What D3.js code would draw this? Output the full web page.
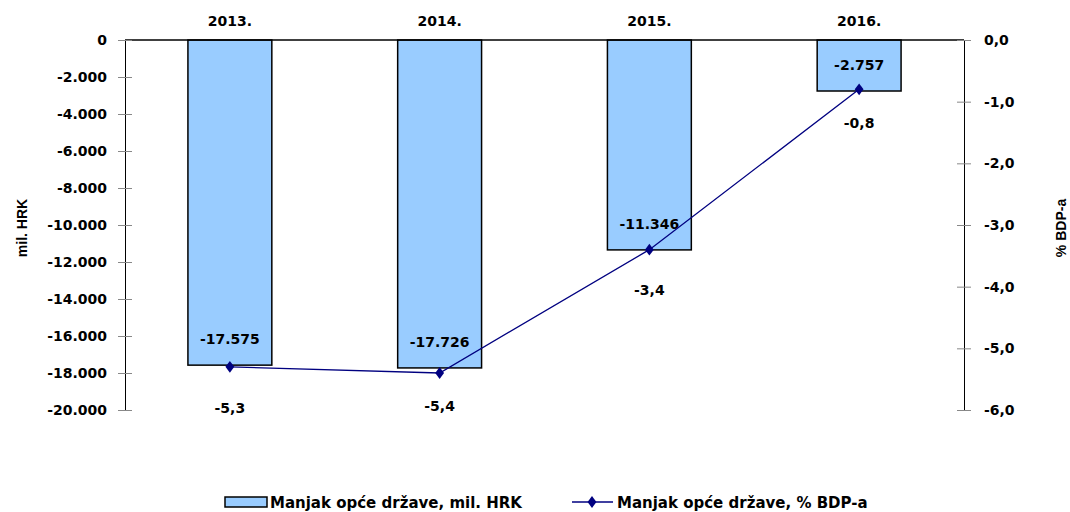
<!DOCTYPE html>
<html>
<head>
<meta charset="utf-8">
<script src="https://d3js.org/d3.v7.min.js"></script>
<style>
  body { margin: 0; background: #fff; }
  text { font-family: Verdana, "DejaVu Sans", sans-serif; font-weight: bold; fill: #000; }
</style>
</head>
<body>
<script>
// data
var years = ["2013.", "2014.", "2015.", "2016."];
var deficitHrk = [-17575, -17726, -11346, -2757];
var deficitGdp = [-5.3, -5.4, -3.4, -0.8];
var leftTicks = [0, -2000, -4000, -6000, -8000, -10000, -12000, -14000, -16000, -18000, -20000];
var rightTicks = [0, -1, -2, -3, -4, -5, -6];
var barLabels = ["-17.575", "-17.726", "-11.346", "-2.757"];
var lineLabels = ["-5,3", "-5,4", "-3,4", "-0,8"];

// label placement below the line points (hand-placed in the original)
var lineLabelDy = [46, 38, 45, 39];

var svg = d3.select("body").append("svg").attr("width", 1070).attr("height", 512);

var plotLeft = 125, plotRight = 964, plotTop = 40, plotBottom = 410;

var x = d3.scaleBand().domain(years).range([plotLeft, plotRight]).paddingInner(0.6).paddingOuter(0.3);
var yL = d3.scaleLinear().domain([-20000, 0]).range([plotBottom, plotTop]);
var yR = d3.scaleLinear().domain([-6, 0]).range([plotBottom, plotTop]);

var fmtL = function(d){ return d3.format(",")(d).replace(/,/g, ".").replace("−", "-"); };
var fmtR = function(d){ return d3.format(".1f")(d).replace(".", ",").replace("−", "-"); };

// bars
svg.selectAll("rect.bar").data(deficitHrk).enter().append("rect")
  .attr("class", "bar")
  .attr("x", function(d, i){ return x(years[i]); })
  .attr("y", yL(0))
  .attr("width", x.bandwidth())
  .attr("height", function(d){ return yL(d) - yL(0); })
  .style("fill", "#99ccff")
  .style("stroke", "#000")
  .style("stroke-width", 1.5);

// zero line at top
svg.append("line")
  .attr("x1", plotLeft).attr("x2", plotRight)
  .attr("y1", yL(0)).attr("y2", yL(0))
  .style("stroke", "#000").style("stroke-width", 1.5);

// left axis
var gL = svg.append("g").attr("transform", "translate(" + plotLeft + ",0)")
  .call(d3.axisLeft(yL).tickValues(leftTicks).tickFormat(fmtL).tickSizeInner(0).tickSizeOuter(0).tickPadding(18));
gL.select(".domain").style("stroke", "#000");
gL.selectAll(".tick text").style("font-size", "14px").style("font-family", "Verdana, 'DejaVu Sans', sans-serif").style("font-weight", "bold");
gL.selectAll(".tick").append("line").attr("x1", -7).attr("x2", 7).style("stroke", "#888");

// right axis
var gR = svg.append("g").attr("transform", "translate(" + plotRight + ",0)")
  .call(d3.axisRight(yR).tickValues(rightTicks).tickFormat(fmtR).tickSizeInner(0).tickSizeOuter(0).tickPadding(20));
gR.select(".domain").style("stroke", "#000");
gR.selectAll(".tick text").style("font-size", "14px").style("font-family", "Verdana, 'DejaVu Sans', sans-serif").style("font-weight", "bold");
gR.selectAll(".tick").append("line").attr("x1", -7).attr("x2", 7).style("stroke", "#888");

// category labels on top
svg.selectAll("text.cat").data(years).enter().append("text")
  .attr("class", "cat")
  .attr("x", function(d){ return x(d) + x.bandwidth() / 2; })
  .attr("y", 26)
  .attr("text-anchor", "middle")
  .style("font-size", "14px")
  .text(function(d){ return d; });

// bar labels
svg.selectAll("text.barlab").data(deficitHrk).enter().append("text")
  .attr("class", "barlab")
  .attr("x", function(d, i){ return x(years[i]) + x.bandwidth() / 2; })
  .attr("y", function(d){ return yL(d) - 21; })
  .attr("text-anchor", "middle")
  .style("font-size", "14px")
  .text(function(d, i){ return barLabels[i]; });

// line
var line = d3.line()
  .x(function(d, i){ return x(years[i]) + x.bandwidth() / 2; })
  .y(function(d){ return yR(d); });

svg.append("path").datum(deficitGdp)
  .attr("d", line)
  .style("fill", "none").style("stroke", "#000080").style("stroke-width", 1.3);

svg.selectAll("path.pt").data(deficitGdp).enter().append("path")
  .attr("class", "pt")
  .attr("d", d3.symbol().type(d3.symbolDiamond).size(40))
  .attr("transform", function(d, i){ return "translate(" + (x(years[i]) + x.bandwidth() / 2) + "," + yR(d) + ") scale(1.3,1)"; })
  .style("fill", "#000080");

svg.selectAll("text.linelab").data(deficitGdp).enter().append("text")
  .attr("class", "linelab")
  .attr("x", function(d, i){ return x(years[i]) + x.bandwidth() / 2; })
  .attr("y", function(d, i){ return yR(d) + lineLabelDy[i]; })
  .attr("text-anchor", "middle")
  .style("font-size", "14px")
  .text(function(d, i){ return lineLabels[i]; });

// axis titles
svg.append("text")
  .attr("transform", "translate(27,228) rotate(-90)")
  .attr("text-anchor", "middle")
  .style("font-family", "'Liberation Sans Narrow', 'Arial Narrow', sans-serif")
  .style("font-size", "14px")
  .text("mil. HRK");

svg.append("text")
  .attr("transform", "translate(1066,228) rotate(-90)")
  .attr("text-anchor", "middle")
  .style("font-family", "'Liberation Sans Narrow', 'Arial Narrow', sans-serif")
  .style("font-size", "14px")
  .text("% BDP-a");

// legend
var leg = svg.append("g");
leg.append("rect").attr("x", 225).attr("y", 497).attr("width", 42).attr("height", 10)
  .style("fill", "#99ccff").style("stroke", "#000").style("stroke-width", 1.5);
leg.append("text").attr("x", 270).attr("y", 508).style("font-size", "15px").text("Manjak opće države, mil. HRK");

leg.append("line").attr("x1", 572).attr("x2", 613).attr("y1", 502).attr("y2", 502)
  .style("stroke", "#000080").style("stroke-width", 1.3);
leg.append("path").attr("d", d3.symbol().type(d3.symbolDiamond).size(40)())
  .attr("transform", "translate(592,502) scale(1.3,1)").style("fill", "#000080");
leg.append("text").attr("x", 617).attr("y", 508).style("font-size", "15px").text("Manjak opće države, % BDP-a");
</script>
</body>
</html>
